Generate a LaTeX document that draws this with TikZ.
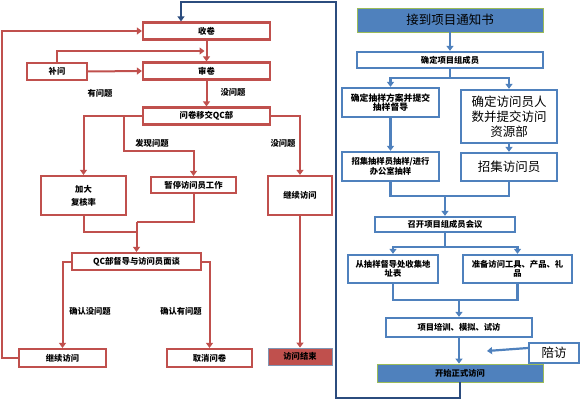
\documentclass[tikz,border=0pt]{standalone}
\usepackage{fontspec}
\newfontfamily\cjk{Noto Sans CJK SC}
\usetikzlibrary{arrows.meta,calc}
\definecolor{qcred}{HTML}{C0504D}
\definecolor{pmblue}{HTML}{4F81BD}
\definecolor{navyline}{HTML}{2B4C7E}
\definecolor{edgegreen}{HTML}{9BBB59}

\begin{document}
\begin{tikzpicture}[
    x=1pt, y=-1pt,
    small/.style={font=\cjk\bfseries\fontsize{8.3}{9.5}\selectfont},
    big/.style={font=\cjk\fontsize{12.5}{15}\selectfont},
    redbox/.style={draw=qcred, line width=2.2pt, fill=white, inner sep=0pt, align=center, small},
    bluebox/.style={draw=pmblue, line width=2.3pt, fill=white, inner sep=0pt, align=center, small},
    headbox/.style={draw=edgegreen, line width=0.8pt, fill=pmblue, inner sep=0pt, align=center},
    note/.style={small, inner sep=1pt},
    redline/.style={draw=qcred, line width=2pt},
    redarrow/.style={redline, -{Triangle[length=5pt,width=7pt]}},
    blueline/.style={draw=pmblue, line width=2.2pt},
    bluearrow/.style={blueline, -{Triangle[length=5pt,width=7pt]}},
    backarrow/.style={draw=navyline, line width=1.6pt, -{Triangle[length=5pt,width=7pt]}}
]
\useasboundingbox (0,0) rectangle (580,401);

% QC side
\node[redbox, minimum width=127pt, minimum height=17pt] (shou) at (206.5,31) {收卷};
\node[redbox, minimum width=127pt, minimum height=17pt] (shen) at (206.5,71) {审卷};
\node[redbox, minimum width=60pt, minimum height=17pt] (buwen) at (57,71.5) {补问};
\node[redbox, minimum width=127pt, minimum height=17pt] (yijiao) at (206.5,116) {问卷移交QC部};
\node[redbox, minimum width=85pt, minimum height=39pt, font=\cjk\bfseries\fontsize{8.3}{13}\selectfont] (jiada) at (83.5,195.5) {加大\\复核率};
\node[redbox, minimum width=85pt, minimum height=16pt] (zanting) at (193.5,185) {暂停访问员工作};
\node[redbox, minimum width=64pt, minimum height=39pt] (jixu1) at (300,195.5) {继续访问};
\node[redbox, minimum width=129pt, minimum height=17pt] (mian) at (136.5,261.5) {QC部督导与访问员面谈};
\node[redbox, minimum width=87pt, minimum height=18pt] (jixu2) at (62.5,358) {继续访问};
\node[redbox, minimum width=85pt, minimum height=18pt] (quxiao) at (209.5,358) {取消问卷};
\node[redbox, fill=qcred, draw=navyline!60, line width=0.8pt, minimum width=64pt, minimum height=17pt] (jieshu) at (300,356.5) {访问结束};

\node[note] (youwenti) at (100,93) {有问题};
\node[note] (meiwenti1) at (233,92) {没问题};
\node[note] (faxian) at (152,143) {发现问题};
\node[note] (meiwenti2) at (283,143) {没问题};
\node[note] (querenmei) at (90,311) {确认没问题};
\node[note] (querenyou) at (181,311) {确认有问题};

\coordinate (m0) at ($(shou.south)!0.5!(shen.north)$);
\draw[redarrow] (shou.south) -- (shen.north);
\draw[redarrow] (buwen.north) |- ([xshift=-2pt]m0);
\draw[redarrow] (buwen.east) -- (shen.west);
\draw[redarrow] (shen.south) -- (yijiao.north);
\draw[redarrow] (yijiao.west) -| (jiada.north);
\draw[redarrow] ([xshift=-18pt]yijiao.west) -- ++(0,35) -| (zanting.north);
\draw[redarrow] (yijiao.east) -| (jixu1.north);
\coordinate (m1) at ([yshift=30pt]mian.north);
\draw[redline] (jiada.south) |- ([yshift=20pt]mian.north);
\draw[redline] (zanting.south) |- (m1);
\draw[redarrow] (m1) -- (mian.north);
\draw[redarrow] (mian.west) -| (jixu2.north);
\draw[redarrow] (mian.east) -| (quxiao.north);
\draw[redarrow] (jixu1.south) -- (jieshu.north);
\draw[redarrow] (jixu2.west) -- ++(-16,0) |- (shou.west);

% project side
\node[headbox, minimum width=186pt, minimum height=24pt, big] (tongzhi) at (450,20) {接到项目通知书};
\node[bluebox, minimum width=186pt, minimum height=16pt] (chengyuan) at (450,60) {确定项目组成员};
\node[bluebox, minimum width=97pt, minimum height=29pt, font=\cjk\bfseries\fontsize{8.8}{9.5}\selectfont] (fangan) at (390.5,102.5) {确定抽样方案并提交\\抽样督导};
\node[bluebox, minimum width=96pt, minimum height=53pt, big] (renshu) at (509,116.5) {确定访问员人\\数并提交访问\\资源部};
\node[bluebox, minimum width=97pt, minimum height=29pt] (chouyang) at (390.5,166.5) {招集抽样员抽样/进行\\办公室抽样};
\node[bluebox, minimum width=96pt, minimum height=28pt, big] (zhaoji) at (509,167) {招集访问员};
\node[bluebox, minimum width=140pt, minimum height=15pt] (huiyi) at (445,224.5) {召开项目组成员会议};
\node[bluebox, minimum width=90pt, minimum height=28pt] (dizhi) at (393,269) {从抽样督导处收集地\\址表};
\node[bluebox, minimum width=109pt, minimum height=28pt] (gongju) at (517.5,269) {准备访问工具、产品、礼\\品};
\node[bluebox, minimum width=146pt, minimum height=19pt] (peixun) at (459,327.5) {项目培训、模拟、试访};
\node[headbox, minimum width=166pt, minimum height=18pt, small] (kaishi) at (460,373) {开始正式访问};
\node[bluebox, minimum width=50pt, minimum height=20pt, big] (peifang) at (554,353) {陪访};
\coordinate (pf) at (487,351);

\draw[bluearrow] (tongzhi.south) -- (chengyuan.north);
\draw[bluearrow] (chengyuan.south) -- ++(0,9) -| (fangan.north);
\draw[bluearrow] (chengyuan.south) -- ++(0,9) -| (renshu.north);
\draw[bluearrow] (fangan.south) -- (chouyang.north);
\draw[bluearrow] (renshu.south) -- (zhaoji.north);
\coordinate (m2) at ([yshift=20pt]huiyi.north);
\draw[blueline] (chouyang.south) |- (m2);
\draw[blueline] (zhaoji.south) |- (m2);
\draw[bluearrow] (m2) -- (huiyi.north);
\draw[bluearrow] (huiyi.south) -- ++(0,14) -| (dizhi.north);
\draw[bluearrow] (huiyi.south) -- ++(0,14) -| (gongju.north);
\coordinate (m3) at ([yshift=17pt]peixun.north);
\draw[blueline] (dizhi.south) |- (m3);
\draw[blueline] (gongju.south) |- (m3);
\draw[bluearrow] (m3) -- (peixun.north);
\draw[bluearrow] (peixun.south) -- (peixun.south |- kaishi.north);
\draw[bluearrow] ([yshift=5pt]peifang.west) -- (pf);

% back to the QC side
\draw[backarrow] (kaishi.south) |- (336,398) |- (181,2) -- ([xshift=-25.5pt]shou.north);

\end{tikzpicture}
\end{document}
